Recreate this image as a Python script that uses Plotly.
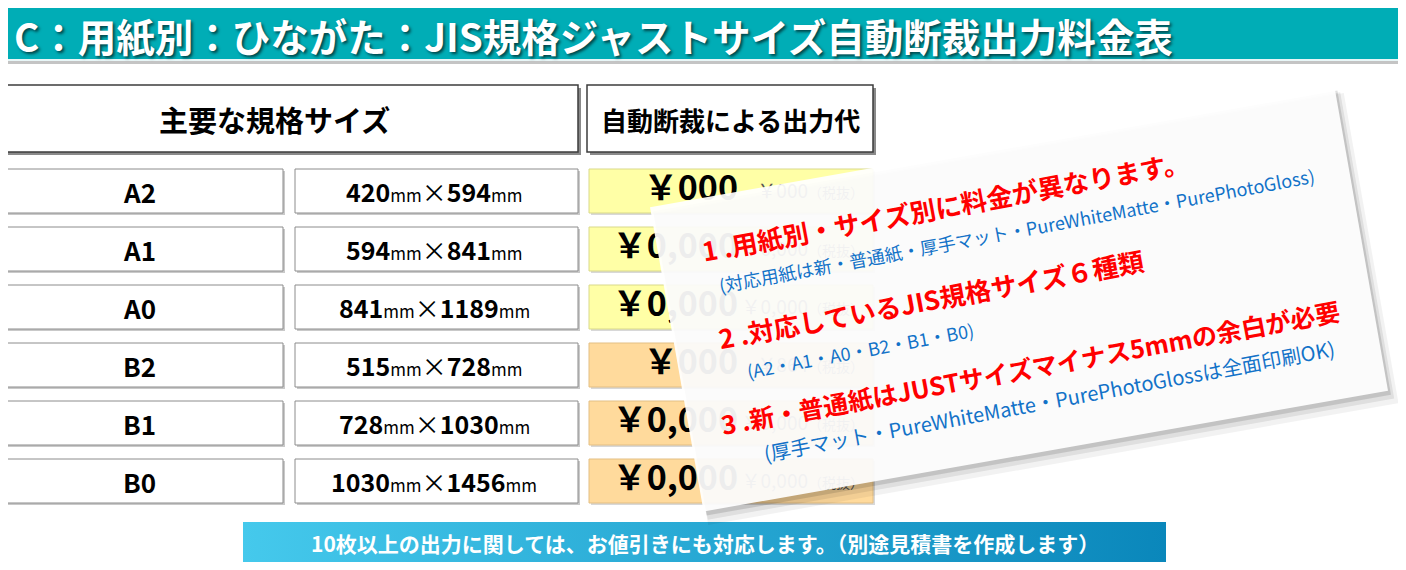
import plotly.graph_objects as go
import numpy as np

W, H = 1406, 570
PAD = 8  # default page margin of the html body
FONT = "Noto Sans CJK JP"

# --- data ---
TITLE = "C：用紙別：ひながた：JIS規格ジャストサイズ自動断裁出力料金表"
col_headers = ["主要な規格サイズ", "自動断裁による出力代"]
sizes = ["A2", "A1", "A0", "B2", "B1", "B0"]
width_mm = [420, 594, 841, 515, 728, 1030]
height_mm = [594, 841, 1189, 728, 1030, 1456]
prices = ["￥000", "￥0,000", "￥0,000", "￥000", "￥0,000", "￥0,000"]
prices_net = ["￥000", "￥0,000", "￥0,000", "￥864", "￥0,000", "￥0,000"]
tax_label = "（税抜）"
notes = [
    "1 .用紙別・サイズ別に料金が異なります。",
    "2 .対応しているJIS規格サイズ６種類",
    "3 .新・普通紙はJUSTサイズマイナス5mmの余白が必要",
]
sub_notes = [
    "(対応用紙は新・普通紙・厚手マット・PureWhiteMatte・PurePhotoGloss)",
    "(A2・A1・A0・B2・B1・B0)",
    "(厚手マット・PureWhiteMatte・PurePhotoGlossは全面印刷OK)",
]
FOOTER = "10枚以上の出力に関しては、お値引きにも対応します。（別途見積書を作成します）"

# --- layout geometry (page pixel coords) ---
row_y = [191 + 58 * i for i in range(len(sizes))]
ROW_H = 44
COL1 = (-6, 283)
COL2 = (295, 578)
COL3 = (589, 873)
cell_fill = ["#ffffa6" if s.startswith("A") else "#ffda9c" for s in sizes]
cell_line = ["#d9d98a" if s.startswith("A") else "#e3bf84" for s in sizes]

fig = go.Figure()
shapes = []
annotations = []


def rect(x0, y0, x1, y1, fill, line="rgba(0,0,0,0)", lw=0, layer="below"):
    shapes.append(dict(type="rect", x0=x0, y0=y0, x1=x1, y1=y1, fillcolor=fill,
                       line=dict(color=line, width=lw), layer=layer))


def text(x, y, s, size, color="black", bold=True, xanchor="center", angle=0, shadow=None):
    f = dict(family=FONT, size=size, color=color, weight="bold" if bold else "normal")
    if shadow:
        f["shadow"] = shadow
    annotations.append(dict(x=x, y=y, xref="x", yref="y", text=s, showarrow=False,
                            xanchor=xanchor, yanchor="middle", textangle=angle, font=f))


# header bar
rect(-10, 5, W + 10, 59, "#00adb6")
rect(-10, 59, W + 10, 61, "#e8f6f7")
rect(-10, 61, W + 10, 64, "#c4c4c4")
text(12, 35, TITLE, 38.5, "white", xanchor="left", shadow="2px 2px 3px rgba(0,0,0,0.6)")

# column headers
for (x0, x1), lab, cx_, fs in zip([(-6, 578), (587, 873)], col_headers, [274, 730], [29, 26]):
    rect(x0 + 3, 88, x1 + 3, 155, "#8a8a8a")
    rect(x0, 85, x1, 152, "white", "#3c3c3c", 1.5)
    text(cx_, 119, lab, fs)

# rows
mm = "<span style='font-size:17px;font-weight:normal'>mm</span>"
for i, y in enumerate(row_y):
    y0, y1 = y - ROW_H / 2, y + ROW_H / 2
    for x0, x1 in (COL1, COL2):
        rect(x0 + 2, y0 + 2, x1 + 2, y1 + 2, "#c9c9c9")
        rect(x0, y0, x1, y1, "white", "#8c8c8c", 1)
    rect(COL3[0] + 2, y0 + 2, COL3[1] + 2, y1 + 2, "#d8d8d8")
    rect(COL3[0], y0, COL3[1], y1, cell_fill[i], cell_line[i], 1)
    text(139, y, sizes[i], 26)
    text(434, y,
         f"{width_mm[i]}{mm}<span style='font-weight:normal'>×</span>{height_mm[i]}{mm}", 25)

# prices (trace layer, so the note card can sit over them)
fig.add_trace(go.Scatter(
    x=[738] * len(prices), y=row_y, mode="text",
    text=prices, textposition="middle left",
    textfont=dict(family=FONT, size=34, color="black", weight="bold"),
    hoverinfo="skip", showlegend=False))
fig.add_trace(go.Scatter(
    x=[864] * len(prices), y=[y + 2 for y in row_y], mode="text",
    text=[f"{p}<span style='font-size:14px'>{tax_label}</span>" for p in prices_net],
    textposition="middle left",
    textfont=dict(family=FONT, size=19, color="#555555"),
    hoverinfo="skip", showlegend=False))

# footer banner with gradient
bx0, bx1, by0, by1 = 243, 1166, 522, 562
fig.add_trace(go.Scatter(
    x=[bx0, bx1, bx1, bx0, bx0], y=[by0, by0, by1, by1, by0],
    mode="lines", fill="toself", line=dict(width=0),
    fillgradient=dict(type="horizontal", colorscale=[[0, "#45c9ec"], [1, "#0a87bb"]]),
    hoverinfo="skip", showlegend=False))
text((bx0 + bx1) / 2, 543, FOOTER, 21, "white")

# rotated note card
cx, cy, cw, ch, ang = 1019, 299, 695, 309, np.deg2rad(10)


def card_path(ox=0, oy=0, grow=0):
    pts = []
    for dx, dy in [(-1, -1), (1, -1), (1, 1), (-1, 1)]:
        hx, hy = dx * (cw / 2 + grow), dy * (ch / 2 + grow)
        px = cx + hx * np.cos(ang) + hy * np.sin(ang) + ox
        py = cy - hx * np.sin(ang) + hy * np.cos(ang) + oy
        pts.append(f"{px:.1f},{py:.1f}")
    return "M " + " L ".join(pts) + " Z"


for ox, oy, g, a in [(7, 10, 3, 0.05), (5, 7, 1, 0.08), (3, 4, 0, 0.12)]:
    shapes.append(dict(type="path", path=card_path(ox, oy, g), fillcolor=f"rgba(0,0,0,{a})",
                       line=dict(width=0), layer="above"))
shapes.append(dict(type="path", path=card_path(), fillcolor="rgba(255,255,255,0.93)",
                   line=dict(width=0), layer="above"))

note_pos = [(945, 205), (931, 298), (1030, 367)]
sub_pos = [(1016, 230), (860, 350), (1049, 400)]
for s, (x, y), fs in zip(notes, note_pos, [26, 26, 25]):
    text(x, y, s, fs, "#ff0000", angle=-10.5)
for s, (x, y), fs in zip(sub_notes, sub_pos, [18, 18, 20]):
    text(x, y, s, fs, "#1272c8", bold=False, angle=-10.5)

# axes in page pixels: the plot div sits PAD px inside the page
fig.update_layout(
    width=W - PAD, height=H - PAD, margin=dict(l=0, r=0, t=0, b=0),
    paper_bgcolor="white", plot_bgcolor="white",
    xaxis=dict(range=[PAD, W], visible=False, fixedrange=True),
    yaxis=dict(range=[H, PAD], visible=False, fixedrange=True),
    shapes=shapes, annotations=annotations, showlegend=False,
)

fig.write_html("out.html")
